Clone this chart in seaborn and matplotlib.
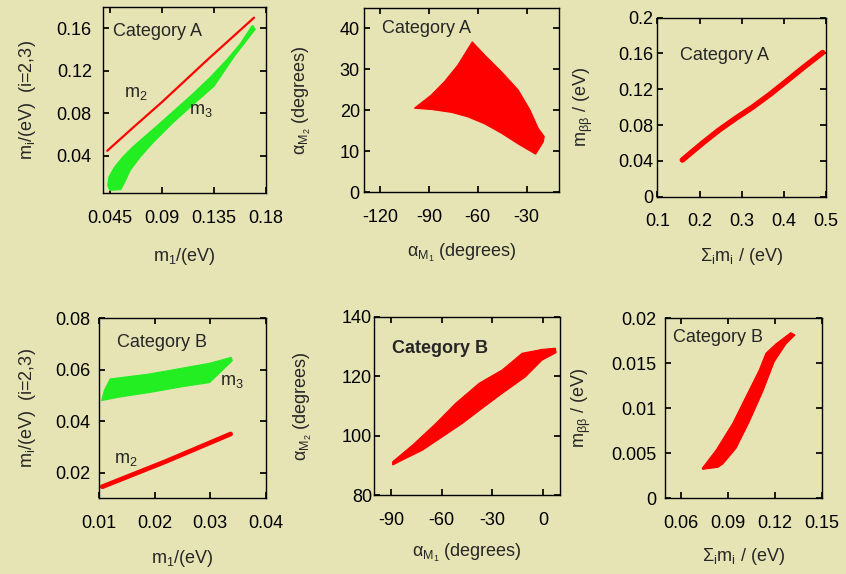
import numpy as np
import pandas as pd
import matplotlib
matplotlib.use('Agg')
import matplotlib.pyplot as plt
import seaborn as sns

# outlines of the scattered regions
# Category A: m2 and m3 versus m1
a_m1_m2 = [0.0427, 0.065, 0.09, 0.13, 0.1697]
a_m2 = [0.0447, 0.0665, 0.0905, 0.131, 0.170]
a_m1_m3 = [0.0444, 0.0494, 0.0566, 0.0653, 0.0769, 0.0885, 0.103, 0.1175, 0.132,
           0.1465, 0.1581, 0.1683, 0.1704, 0.1523, 0.1349, 0.1175, 0.1001, 0.0827,
           0.0711, 0.0624, 0.0572, 0.0543, 0.045, 0.0433]
a_m3 = [0.0202, 0.0296, 0.0391, 0.0485, 0.0595, 0.0705, 0.0846, 0.0987, 0.1138,
        0.1305, 0.1455, 0.1625, 0.159, 0.1335, 0.1056, 0.089, 0.072, 0.0532,
        0.039, 0.0265, 0.0143, 0.0084, 0.0077, 0.0124]

# Category A: Majorana phases
a_alpha1 = [-99.0, -88.7, -80.5, -72.3, -63.4, -55.8, -45.4, -35.2, -27.9, -22.8,
            -19.1, -19.7, -24.4, -35.2, -45.4, -55.8, -66.1, -76.3, -88.7]
a_alpha2 = [20.5, 23.7, 27.0, 31.0, 36.7, 33.5, 29.4, 25.0, 20.1, 15.6,
            13.6, 12.3, 9.3, 11.8, 14.4, 16.7, 18.4, 19.5, 20.2]

# Category A: m_bb versus sum of masses
a_sum = [0.1594, 0.2069, 0.2466, 0.2862, 0.3257, 0.3653, 0.405, 0.4444, 0.492]
a_mbb = [0.041, 0.0597, 0.0745, 0.0876, 0.0999, 0.1136, 0.1285, 0.1435, 0.1609]

# Category B: m2 and m3 versus m1
b_m1_m2 = [0.0106, 0.022, 0.0337]
b_m2 = [0.0145, 0.0243, 0.035]
b_m1_m3 = [0.01047, 0.01096, 0.0120, 0.01896, 0.0250, 0.0299, 0.0338, 0.0340,
           0.0299, 0.0250, 0.01896, 0.0135]
b_m3 = [0.048, 0.0519, 0.0564, 0.0583, 0.0606, 0.0625, 0.0648, 0.0635,
        0.055, 0.0534, 0.0511, 0.0493]

# Category B: Majorana phases
b_alpha1 = [-89.1, -77.3, -63.5, -51.7, -37.9, -24.2, -12.4, -0.6, 7.3,
            7.7, -0.6, -10.4, -24.2, -36.0, -47.8, -59.6, -71.4, -83.2, -89.1]
b_alpha2 = [91.2, 96.8, 104.1, 110.9, 117.6, 122.1, 127.7, 129.0, 129.4,
            127.9, 125.4, 119.8, 114.2, 109.2, 104.1, 99.6, 95.1, 91.8, 90.1]

# Category B: m_bb versus sum of masses
b_sum = [0.0737, 0.0826, 0.0931, 0.1026, 0.11, 0.1142, 0.1205, 0.13, 0.1327,
         0.1269, 0.1195, 0.1121, 0.1036, 0.0952, 0.0868, 0.0836, 0.0741]
b_mbb = [0.00333, 0.00537, 0.00833, 0.01167, 0.01426, 0.01611, 0.01714, 0.0184, 0.01814,
         0.01714, 0.01518, 0.01184, 0.00851, 0.00556, 0.00381, 0.00344, 0.00322]

bg = '#e6e4b5'
red = '#ff0000'
green = '#22ee22'
fnt = ['Liberation Sans', 'DejaVu Sans']

sns.set_theme(style='ticks', rc={
    'figure.facecolor': bg, 'axes.facecolor': bg, 'savefig.facecolor': bg,
    'axes.edgecolor': 'black', 'axes.linewidth': 1.0,
    'xtick.direction': 'in', 'ytick.direction': 'in',
    'xtick.top': True, 'ytick.right': True,
    'xtick.major.size': 4, 'ytick.major.size': 4,
    'xtick.color': 'black', 'ytick.color': 'black',
    'font.size': 13, 'xtick.labelsize': 13, 'ytick.labelsize': 13,
    'axes.labelsize': 13,
})
plt.rcParams['font.family'] = fnt
plt.rcParams['mathtext.fontset'] = 'custom'
plt.rcParams['mathtext.rm'] = 'Liberation Sans'
plt.rcParams['mathtext.it'] = 'Liberation Sans'
plt.rcParams['mathtext.bf'] = 'Liberation Sans:bold'

fig = plt.figure(figsize=(8.46, 5.74), dpi=100)

rects = [
    [0.1217, 0.6638, 0.1927, 0.3240],
    [0.4303, 0.6650, 0.2305, 0.3214],
    [0.7770, 0.6573, 0.1994, 0.3122],
    [0.1170, 0.1319, 0.1970, 0.3136],
    [0.4424, 0.1376, 0.2195, 0.3106],
    [0.7860, 0.1319, 0.1859, 0.3136],
]
axs = [fig.add_axes(r) for r in rects]


def style(ax, xlim, ylim, xt, xl, yt, yl, xlabel, ylabel, ypad, xlab_y, ylab_x):
    ax.set_xlim(*xlim)
    ax.set_ylim(*ylim)
    ax.set_xticks(xt)
    ax.set_xticklabels(xl)
    ax.set_yticks(yt)
    ax.set_yticklabels(yl)
    ax.tick_params(axis='x', pad=12)
    ax.tick_params(axis='y', pad=ypad)
    ax.set_xlabel(xlabel, va='center')
    ax.set_ylabel(ylabel, va='center')
    ax.xaxis.set_label_coords(0.5, xlab_y)
    ax.yaxis.set_label_coords(ylab_x, 0.5)
    for s in ax.spines.values():
        s.set_visible(True)


# panel 1
ax = axs[0]
ax.fill(a_m1_m3, a_m3, color=green, lw=1.2, ec=green)
sns.lineplot(x=a_m1_m2, y=a_m2, sort=False, color=red, lw=1.6, ax=ax)
ax.text(0.0676, 0.099, r'm$_2$', ha='center', va='center')
ax.text(0.1233, 0.083, r'm$_3$', ha='center', va='center')
ax.text(0.061, 0.866, 'Category A', transform=ax.transAxes, va='center')
style(ax, (0.039, 0.18), (0.005, 0.18), [0.045, 0.09, 0.135, 0.18],
      ['0.045', '0.09', '0.135', '0.18'], [0.04, 0.08, 0.12, 0.16],
      ['0.04', '0.08', '0.12', '0.16'], r'm$_1$/(eV)', r'm$_i$/(eV)  (i=2,3)',
      8, -0.34, -0.46)

# panel 2
ax = axs[1]
ax.fill(a_alpha1, a_alpha2, color=red, lw=0.8, ec=red)
ax.text(0.091, 0.889, 'Category A', transform=ax.transAxes, va='center')
style(ax, (-130, -10), (0, 45), [-120, -90, -60, -30],
      ['-120', '-90', '-60', '-30'], [0, 10, 20, 30, 40],
      ['0', '10', '20', '30', '40'], r'$\mathrm{\alpha_{M_1}}$ (degrees)',
      r'$\mathrm{\alpha_{M_2}}$ (degrees)', 3, -0.329, -0.319)

# panel 3
ax = axs[2]
sns.lineplot(x=a_sum, y=a_mbb, sort=False, color=red, lw=4.0, ax=ax,
             solid_capstyle='round')
ax.text(0.135, 0.79, 'Category A', transform=ax.transAxes, va='center')
style(ax, (0.1, 0.5), (0, 0.2), [0.1, 0.2, 0.3, 0.4, 0.5],
      ['0.1', '0.2', '0.3', '0.4', '0.5'], [0, 0.04, 0.08, 0.12, 0.16, 0.2],
      ['0', '0.04', '0.08', '0.12', '0.16', '0.2'], r'$\mathrm{\Sigma_i}$m$_\mathrm{i}$ / (eV)',
      r'm$_{\mathrm{\beta\beta}}$ / (eV)', 3, -0.336, -0.44)

# panel 4
ax = axs[3]
ax.fill(b_m1_m3, b_m3, color=green, lw=0.8, ec=green)
sns.lineplot(x=b_m1_m2, y=b_m2, sort=False, color=red, lw=3.4, ax=ax,
             solid_capstyle='round')
ax.text(0.0148, 0.0249, r'm$_2$', ha='center', va='center')
ax.text(0.0339, 0.0553, r'm$_3$', ha='center', va='center')
ax.text(0.108, 0.868, 'Category B', transform=ax.transAxes, va='center')
style(ax, (0.01, 0.04), (0.01, 0.08), [0.01, 0.02, 0.03, 0.04],
      ['0.01', '0.02', '0.03', '0.04'], [0.02, 0.04, 0.06, 0.08],
      ['0.02', '0.04', '0.06', '0.08'], r'm$_1$/(eV)', r'm$_i$/(eV)  (i=2,3)',
      6, -0.332, -0.426)

# panel 5
ax = axs[4]
ax.fill(b_alpha1, b_alpha2, color=red, lw=0.8, ec=red)
ax.text(0.094, 0.824, 'Category B', transform=ax.transAxes, va='center',
        fontweight='bold')
style(ax, (-100, 10), (80, 140), [-90, -60, -30, 0],
      ['-90', '-60', '-30', '0'], [80, 100, 120, 140],
      ['80', '100', '120', '140'], r'$\mathrm{\alpha_{M_1}}$ (degrees)',
      r'$\mathrm{\alpha_{M_2}}$ (degrees)', 1.5, -0.325, -0.384)

# panel 6
ax = axs[5]
ax.fill(b_sum, b_mbb, color=red, lw=0.8, ec=red)
ax.text(0.053, 0.896, 'Category B', transform=ax.transAxes, va='center')
style(ax, (0.05, 0.15), (0, 0.02), [0.06, 0.09, 0.12, 0.15],
      ['0.06', '0.09', '0.12', '0.15'], [0, 0.005, 0.01, 0.015, 0.02],
      ['0', '0.005', '0.01', '0.015', '0.02'], r'$\mathrm{\Sigma_i}$m$_\mathrm{i}$ / (eV)',
      r'm$_{\mathrm{\beta\beta}}$ / (eV)', 6, -0.326, -0.53)

fig.savefig('out.png', dpi=100, facecolor=bg)
